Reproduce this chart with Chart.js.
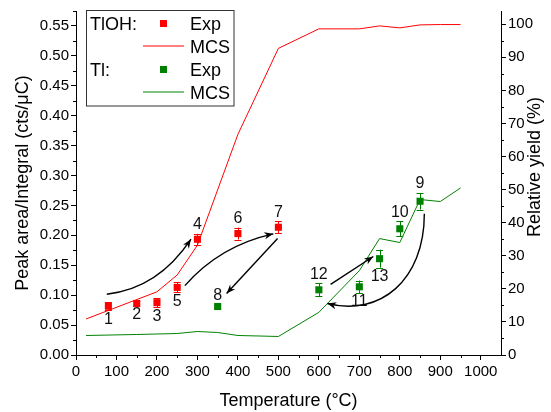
<!DOCTYPE html>
<html>
<head>
<meta charset="utf-8">
<script src="https://cdn.jsdelivr.net/npm/chart.js@4"></script>
<style>
html,body{margin:0;padding:0;background:#fff;}
canvas{display:block;}
</style>
</head>
<body>
<canvas id="c" width="551" height="412"></canvas>
<script>
// ---- Data ----
const tlohTemps = [80, 150, 200, 250, 300, 400, 500];
const tlohExp   = [0.0815, 0.086, 0.0875, 0.113, 0.1935, 0.203, 0.2135];
const tlohErr   = [0.0067, 0.004, 0.0075, 0.0083, 0.009, 0.010, 0.0097];
const tlohLabels = ['1', '2', '3', '5', '4', '6', '7'];
const tlohLabelSide = ['below', 'below', 'below', 'below', 'above', 'above', 'above'];

const tlTemps = [350, 600, 700, 750, 800, 850];
const tlExp   = [0.081, 0.109, 0.114, 0.161, 0.211, 0.257];
const tlErr   = [0.003, 0.011, 0.0105, 0.015, 0.0128, 0.0139];
const tlLabels = ['8', '12', '11', '13', '10', '9'];
const tlLabelSide = ['above', 'above', 'below', 'below', 'above', 'above'];

const mcsTlohTemps = [25, 200, 250, 300, 400, 500, 600, 700, 750, 800, 850, 900, 950];
const mcsTlohYield = [10.9, 19.1, 24.2, 33.2, 66.7, 92.7, 98.6, 98.6, 99.5, 98.9, 99.8, 99.9, 99.9];

const mcsTlTemps = [25, 150, 250, 300, 350, 400, 500, 600, 700, 750, 800, 850, 900, 950];
const mcsTlYield = [5.9, 6.2, 6.5, 7.1, 6.8, 5.9, 5.6, 12.9, 25.5, 35.2, 34.0, 47.0, 46.4, 50.5];

// arrows in data coordinates (x: °C, y: left axis)
const arrowStarts = [[76, 0.1015], [269, 0.116], [498, 0.1947], [629, 0.1181], [860.6, 0.236]];
const arrowCtrls  = [[[203, 0.111]], [[355.7, 0.183]], [], [], [[860.6, 0.1248], [751, 0.0637]]];
const arrowEnds   = [[284, 0.1935], [487.5, 0.2025], [372, 0.1027], [734.5, 0.1647], [621, 0.086]];

const FONT = "'Liberation Sans', Arial, sans-serif";
const RIGHT_TITLE = 'Relative yield (%)';

const pts = (xs, ys) => xs.map((x, i) => ({x: x, y: ys[i]}));

// ---- Plugins ----
const errorBars = {
  id: 'errorBars',
  afterDatasetsDraw(chart) {
    const ctx = chart.ctx, xs = chart.scales.x, ys = chart.scales.y;
    const sets = [[tlohTemps, tlohExp, tlohErr, tlohLabels, tlohLabelSide, '#ff0000'],
                  [tlTemps, tlExp, tlErr, tlLabels, tlLabelSide, '#008000']];
    ctx.save();
    sets.forEach(([t, v, e, lab, side, col]) => {
      t.forEach((tx, i) => {
        const px = xs.getPixelForValue(tx);
        const top = ys.getPixelForValue(v[i] + e[i]);
        const bot = ys.getPixelForValue(v[i] - e[i]);
        const mid = ys.getPixelForValue(v[i]);
        ctx.strokeStyle = col; ctx.lineWidth = 1;
        ctx.beginPath();
        ctx.moveTo(Math.round(px) + 0.5, top); ctx.lineTo(Math.round(px) + 0.5, bot);
        ctx.moveTo(px - 3.5, Math.round(top) + 0.5); ctx.lineTo(px + 3.5, Math.round(top) + 0.5);
        ctx.moveTo(px - 3.5, Math.round(bot) + 0.5); ctx.lineTo(px + 3.5, Math.round(bot) + 0.5);
        ctx.stroke();
        const errPx = Math.max(bot - mid, 2);
        ctx.fillStyle = '#111';
        ctx.font = '16px ' + FONT;
        ctx.textAlign = 'center'; ctx.textBaseline = 'middle';
        const ly = side[i] === 'above' ? mid - errPx - 9 : mid + errPx + 9;
        ctx.fillText(lab[i], px, ly);
      });
    });
    ctx.restore();
  }
};

const arrows = {
  id: 'arrows',
  afterDatasetsDraw(chart) {
    const ctx = chart.ctx, xs = chart.scales.x, ys = chart.scales.y;
    const P = p => [xs.getPixelForValue(p[0]), ys.getPixelForValue(p[1])];
    ctx.save();
    ctx.strokeStyle = '#000'; ctx.fillStyle = '#000'; ctx.lineWidth = 1.4;
    arrowStarts.forEach((s, i) => {
      const a = P(s), b = P(arrowEnds[i]);
      const cs = arrowCtrls[i].map(P);
      let dir;
      ctx.beginPath();
      ctx.moveTo(a[0], a[1]);
      if (cs.length === 0) { ctx.lineTo(b[0], b[1]); dir = [b[0] - a[0], b[1] - a[1]]; }
      else if (cs.length === 1) { ctx.quadraticCurveTo(cs[0][0], cs[0][1], b[0], b[1]); dir = [b[0] - cs[0][0], b[1] - cs[0][1]]; }
      else { ctx.bezierCurveTo(cs[0][0], cs[0][1], cs[1][0], cs[1][1], b[0], b[1]); dir = [b[0] - cs[1][0], b[1] - cs[1][1]]; }
      ctx.stroke();
      const L = Math.hypot(dir[0], dir[1]);
      const ux = dir[0] / L, uy = dir[1] / L;
      const hl = 9, hw = 3.5;
      ctx.beginPath();
      ctx.moveTo(b[0], b[1]);
      ctx.lineTo(b[0] - ux * hl - uy * hw, b[1] - uy * hl + ux * hw);
      ctx.lineTo(b[0] - ux * hl * 0.7, b[1] - uy * hl * 0.7);
      ctx.lineTo(b[0] - ux * hl + uy * hw, b[1] - uy * hl - ux * hw);
      ctx.closePath();
      ctx.fill();
    });
    ctx.restore();
  }
};

const minorTicks = {
  id: 'minorTicks',
  afterDraw(chart) {
    const ctx = chart.ctx, a = chart.chartArea;
    const xs = chart.scales.x, ys = chart.scales.y, y1 = chart.scales.y1;
    ctx.save();
    ctx.strokeStyle = '#000'; ctx.lineWidth = 1;
    ctx.beginPath();
    for (let v = 50; v < 1050; v += 100) {
      const p = Math.round(xs.getPixelForValue(v)) + 0.5;
      ctx.moveTo(p, a.bottom); ctx.lineTo(p, a.bottom + 3);
    }
    for (let k = 0; k < 12; k++) {
      const v = 0.025 + 0.05 * k;
      const p = Math.round(ys.getPixelForValue(v)) + 0.5;
      ctx.moveTo(a.left - 3, p); ctx.lineTo(a.left, p);
    }
    for (let v = 5; v < 104; v += 10) {
      const p = Math.round(y1.getPixelForValue(v)) + 0.5;
      ctx.moveTo(a.right, p); ctx.lineTo(a.right + 3, p);
    }
    ctx.stroke();
    // right axis title, reading bottom-to-top
    ctx.save();
    ctx.translate(535, 167);
    ctx.rotate(-Math.PI / 2);
    ctx.font = '18px ' + FONT; ctx.fillStyle = '#000';
    ctx.textAlign = 'center'; ctx.textBaseline = 'middle';
    ctx.fillText(RIGHT_TITLE, 0, 0);
    ctx.restore();
    ctx.restore();
  }
};

const customLegend = {
  id: 'customLegend',
  afterDraw(chart) {
    const ctx = chart.ctx;
    ctx.save();
    ctx.fillStyle = '#fff';
    ctx.fillRect(87, 11, 147, 95);
    ctx.strokeStyle = '#333'; ctx.lineWidth = 1;
    ctx.strokeRect(86.5, 10.5, 147.5, 95.5);
    ctx.font = '18px ' + FONT; ctx.fillStyle = '#000';
    ctx.textAlign = 'left'; ctx.textBaseline = 'alphabetic';
    ctx.fillText('TlOH:', 90, 30);
    ctx.fillText('Exp', 190, 30);
    ctx.fillText('MCS', 190, 53);
    ctx.fillText('Tl:', 90, 76);
    ctx.fillText('Exp', 190, 76);
    ctx.fillText('MCS', 190, 99);
    ctx.fillStyle = '#ff0000'; ctx.fillRect(160, 20, 7, 7);
    ctx.fillStyle = '#008000'; ctx.fillRect(160, 66, 7, 7);
    ctx.lineWidth = 1;
    ctx.strokeStyle = '#ff0000';
    ctx.beginPath(); ctx.moveTo(143, 46); ctx.lineTo(184, 46); ctx.stroke();
    ctx.strokeStyle = '#008000';
    ctx.beginPath(); ctx.moveTo(143, 92); ctx.lineTo(184, 92); ctx.stroke();
    ctx.restore();
  }
};

// ---- Chart ----
const axisCommon = {
  border: {display: true, color: '#000', width: 1},
  grid: {drawOnChartArea: false, drawTicks: true, tickLength: 5, color: '#000'},
};

new Chart(document.getElementById('c'), {
  type: 'scatter',
  data: {
    datasets: [
      {label: 'TlOH Exp', data: pts(tlohTemps, tlohExp), yAxisID: 'y',
       pointStyle: 'rect', pointRadius: 5, backgroundColor: '#ff0000', borderWidth: 0, order: 0},
      {label: 'TlOH MCS', data: pts(mcsTlohTemps, mcsTlohYield), yAxisID: 'y1', showLine: true,
       borderColor: '#ff0000', borderWidth: 1, pointRadius: 0, order: 2},
      {label: 'Tl Exp', data: pts(tlTemps, tlExp), yAxisID: 'y',
       pointStyle: 'rect', pointRadius: 5, backgroundColor: '#008000', borderWidth: 0, order: 0},
      {label: 'Tl MCS', data: pts(mcsTlTemps, mcsTlYield), yAxisID: 'y1', showLine: true,
       borderColor: '#008000', borderWidth: 1, pointRadius: 0, order: 2}
    ]
  },
  options: {
    responsive: false,
    animation: false,
    layout: {padding: {top: 9, left: 0, right: 0, bottom: 0}},
    plugins: {legend: {display: false}, tooltip: {enabled: false}},
    scales: {
      x: Object.assign({}, axisCommon, {
        type: 'linear', position: 'bottom', min: 0, max: 1050,
        ticks: {stepSize: 100, includeBounds: false, color: '#000', padding: 3,
                font: {family: FONT, size: 15}, maxRotation: 0, callback: v => String(v)},
        title: {display: true, text: 'Temperature (°C)', color: '#000',
                font: {family: FONT, size: 18}, padding: {top: 0, bottom: 0}},
        afterFit(s) { s.height = 57; }
      }),
      y: Object.assign({}, axisCommon, {
        type: 'linear', position: 'left', min: 0, max: 0.575,
        ticks: {stepSize: 0.05, includeBounds: false, color: '#000', padding: 2,
                font: {family: FONT, size: 15}, callback: v => v.toFixed(2)},
        title: {display: true, text: 'Peak area/Integral (cts/μC)', color: '#000',
                font: {family: FONT, size: 18}, padding: {top: 12, bottom: 0}},
        afterFit(s) { s.width = 76; }
      }),
      y1: Object.assign({}, axisCommon, {
        type: 'linear', position: 'right', min: 0, max: 104,
        ticks: {stepSize: 10, includeBounds: false, color: '#000', padding: 2,
                font: {family: FONT, size: 15}, callback: v => String(v)},
        title: {display: false},
        afterFit(s) { s.width = 50; }
      })
    }
  },
  plugins: [errorBars, arrows, minorTicks, customLegend]
});
</script>
</body>
</html>
